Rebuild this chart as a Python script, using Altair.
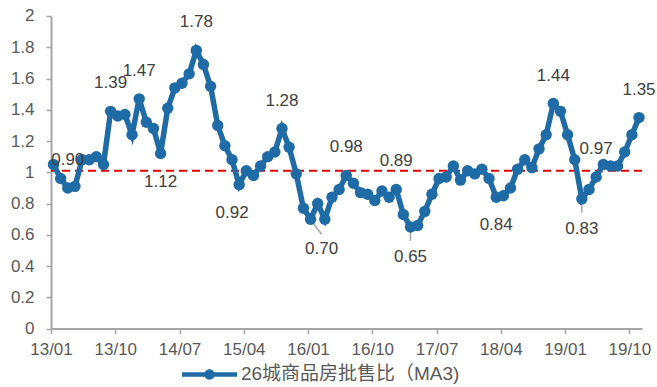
import altair as alt
import pandas as pd

# ---- data (monthly, 2013/01 .. 2019/11) ----
series_name = "26城商品房批售比（MA3)"
ratio = [
    1.05, 0.96, 0.90, 0.91, 1.08, 1.08, 1.10, 1.05, 1.39, 1.36,
    1.37, 1.24, 1.47, 1.32, 1.28, 1.12, 1.41, 1.54, 1.57, 1.63,
    1.78, 1.69, 1.55, 1.30, 1.17, 1.08, 0.92, 1.01, 0.98, 1.04,
    1.10, 1.13, 1.28, 1.16, 0.99, 0.77, 0.70, 0.80, 0.70, 0.84,
    0.89, 0.98, 0.93, 0.87, 0.86, 0.82, 0.88, 0.84, 0.89, 0.73,
    0.65, 0.66, 0.75, 0.86, 0.96, 0.97, 1.04, 0.95, 1.01, 0.99,
    1.02, 0.96, 0.84, 0.85, 0.90, 1.02, 1.08, 1.03, 1.15, 1.24,
    1.44, 1.39, 1.24, 1.08, 0.83, 0.89, 0.97, 1.05, 1.04, 1.04,
    1.13, 1.24, 1.35,
]
tick_labels = ["13/01", "13/10", "14/07", "15/04", "16/01",
               "16/10", "17/07", "18/04", "19/01", "19/10"]
y_ticks = [0, 0.2, 0.4, 0.6, 0.8, 1, 1.2, 1.4, 1.6, 1.8, 2]
ref_level = [1.0]

# labelled points: month index and label placement group
label_months = [2, 8, 12, 15, 20, 26, 32, 36, 41, 48, 50, 62, 70, 74, 76, 82]
label_groups = ["up", "up", "up", "down", "up", "downleft", "up", "lead_diag",
                "up", "up", "lead", "down", "up", "lead", "up", "up"]

months = list(range(len(ratio)))
df = pd.DataFrame({"m": months, "v": ratio, "s": series_name})
lab = pd.DataFrame({
    "m": label_months,
    "v": [ratio[i] for i in label_months],
    "g": label_groups,
})
lab["t"] = lab["v"].map(lambda x: f"{x:.2f}")
ref = pd.DataFrame({"v": ref_level})

BLUE = "#1f6ba6"
AXIS_C = "#a6a6a6"
TXT_C = "#595959"
FONT = "Liberation Sans"

x_off = 0.35
x_scale = alt.Scale(domain=[-x_off, 82.42], nice=False, zero=False)
y_scale = alt.Scale(domain=[0, 2], nice=False)

label_arr = "[" + ",".join(f"'{t}'" for t in tick_labels) + "]"

x_axis = alt.Axis(
    values=[9 * k - x_off for k in range(len(tick_labels))],
    labelExpr=f"{label_arr}[round((datum.value + {x_off}) / 9)]",
    grid=False, tickSize=5, tickColor=AXIS_C, domainColor=AXIS_C,
    domainWidth=2, tickWidth=1.5, labelFlush=False, labelOverlap=False,
    labelPadding=8, labelFontSize=17, labelColor=TXT_C, labelFont=FONT,
)
y_axis = alt.Axis(
    values=y_ticks, format="~g", grid=False, tickSize=5, tickColor=AXIS_C,
    domainColor=AXIS_C, domainWidth=2, tickWidth=1.5, labelPadding=12,
    labelFontSize=17, labelColor=TXT_C, labelFont=FONT, labelOverlap=False,
)


def X(field="m:Q"):
    return alt.X(field, scale=x_scale, title=None, axis=x_axis)


def Y(field="v:Q"):
    return alt.Y(field, scale=y_scale, title=None, axis=y_axis)


legend_path = ("M-1,-0.08 L1,-0.08 L1,0.08 L-1,0.08 Z "
               "M0.19,0 A0.19,0.19 0 1,1 -0.19,0 A0.19,0.19 0 1,1 0.19,0 Z")

color_enc = alt.Color(
    "s:N", scale=alt.Scale(domain=[series_name], range=[BLUE]),
    legend=alt.Legend(
        title=None, orient="none", legendX=131, legendY=331,
        symbolType=legend_path, symbolSize=3025, symbolStrokeWidth=0,
        symbolFillColor=BLUE, symbolOpacity=1,
        labelFontSize=19, labelColor=TXT_C,
        labelFont="Liberation Sans, Noto Sans CJK SC", labelOffset=4,
        labelLimit=400,
    ),
)

base = alt.Chart(df)

refline = alt.Chart(ref).mark_rule(
    color="#e00000", strokeDash=[8, 5], strokeWidth=2, yOffset=-1.5
).encode(y=Y("v:Q"))

line = base.mark_line(strokeWidth=5.5).encode(x=X(), y=Y(), color=color_enc)
pts = base.mark_circle(size=130, opacity=1).encode(
    x=X(), y=Y(),
    color=alt.Color("s:N", scale=alt.Scale(domain=[series_name], range=[BLUE]),
                    legend=None),
)

lead_c = "#a6a6a6"
lead_v = alt.Chart(lab).transform_filter(alt.datum.g == "lead").mark_rule(
    color=lead_c, strokeWidth=1.5, yOffset=0, y2Offset=14
).encode(x=X(), y=Y(), y2="v:Q")
lead_d = alt.Chart(lab).transform_filter(alt.datum.g == "lead_diag").mark_rule(
    color=lead_c, strokeWidth=1.5, xOffset=1, x2Offset=11, yOffset=2, y2Offset=15
).encode(x=X(), x2="m:Q", y=Y(), y2="v:Q")


def labels(group, dx, dy):
    return alt.Chart(lab).transform_filter(alt.datum.g == group).mark_text(
        dx=dx, dy=dy, fontSize=17, font=FONT, color="#404040",
        baseline="middle", align="center",
    ).encode(x=X(), y=Y(), text="t:N")


chart = alt.layer(
    refline, lead_v, lead_d, line, pts,
    labels("up", 0, -28), labels("down", 0, 28), labels("downleft", -7, 28),
    labels("lead", 0, 30), labels("lead_diag", 11, 30),
).properties(
    width=591, height=312.6,
    autosize=alt.AutoSizeParams(type="none"),
    padding={"left": 51, "top": 16, "right": 15, "bottom": 58},
).configure_view(stroke=None)

chart.save("out.html", embed_options={"renderer": "svg", "actions": False})
